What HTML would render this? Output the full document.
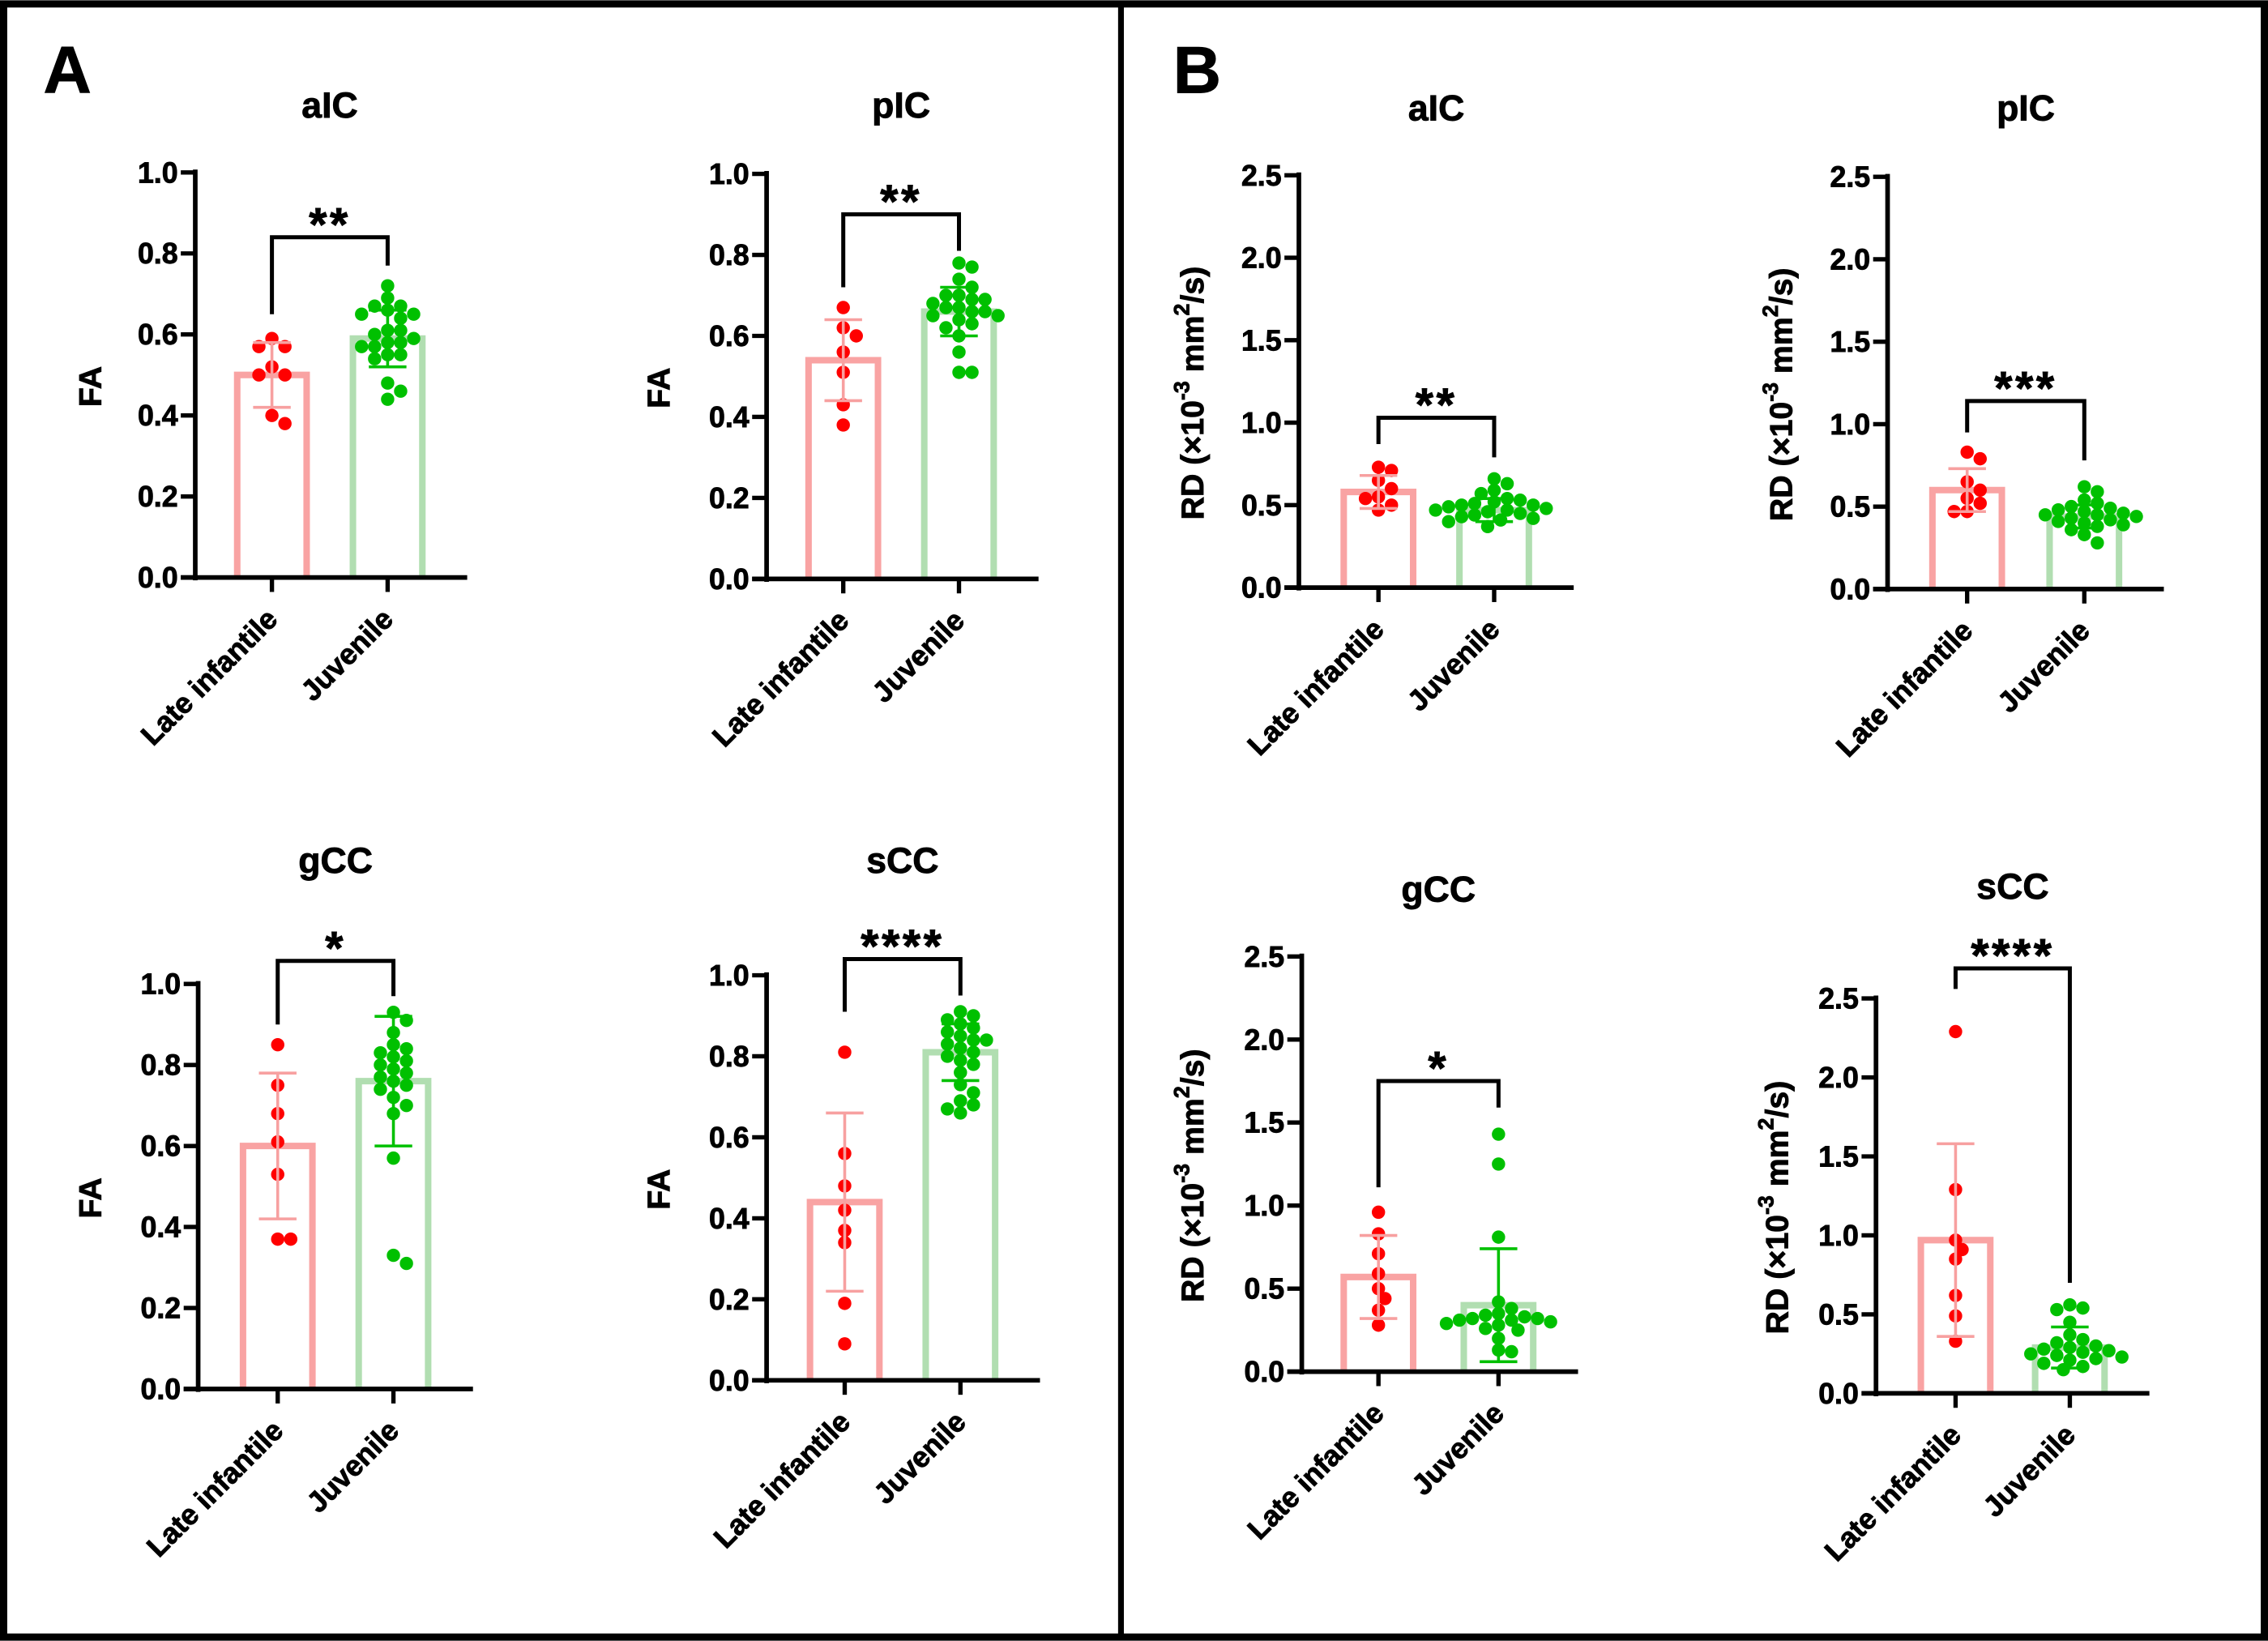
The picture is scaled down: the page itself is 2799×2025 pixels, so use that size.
<!DOCTYPE html>
<html><head><meta charset="utf-8"><style>
html,body{margin:0;padding:0;background:#fff}
svg{display:block}
text{font-family:"Liberation Sans",Arial,sans-serif;font-weight:bold;fill:#000;stroke:#000;stroke-width:0.5}
</style></head><body>
<svg id="fig" width="2799" height="2025" viewBox="0 0 1568 1134" xmlns="http://www.w3.org/2000/svg">
<rect x="2.5" y="2.5" width="1563" height="1129" fill="#fff" stroke="#000" stroke-width="5"/>
<line x1="775" y1="2" x2="775" y2="1132" stroke="#000" stroke-width="4"/>
<text x="30" y="64" font-size="46">A</text>
<text x="811" y="64" font-size="46">B</text>
</svg>
<script>
// ---- data ----
const categories = ["Late infantile","Juvenile"];
const faTicks = ["0.0","0.2","0.4","0.6","0.8","1.0"];
const rdTicks = ["0.0","0.5","1.0","1.5","2.0","2.5"];

const faAicLI = [0.59,0.57,0.57,0.52,0.50,0.50,0.40,0.38];
const faAicJuv = [0.72,0.69,0.67,0.67,0.66,0.65,0.65,0.64,0.61,0.61,0.60,0.59,0.58,0.58,0.57,0.57,0.55,0.55,0.54,0.48,0.46,0.44];
const faAicStats = [0.50,0.08,0.59,0.07];

const faPicLI = [0.67,0.62,0.60,0.56,0.51,0.43,0.38];
const faPicJuv = [0.78,0.77,0.74,0.72,0.70,0.70,0.69,0.69,0.68,0.67,0.67,0.66,0.66,0.65,0.65,0.64,0.63,0.62,0.60,0.56,0.51,0.51];
const faPicStats = [0.54,0.10,0.66,0.06];

const faGccLI = [0.85,0.75,0.68,0.61,0.53,0.37,0.37];
const faGccJuv = [0.93,0.91,0.88,0.85,0.84,0.83,0.82,0.81,0.80,0.79,0.78,0.77,0.76,0.75,0.74,0.72,0.70,0.68,0.57,0.33,0.31];
const faGccStats = [0.60,0.18,0.76,0.16];

const faSccLI = [0.81,0.56,0.48,0.42,0.37,0.34,0.19,0.09];
const faSccJuv = [0.91,0.90,0.89,0.88,0.87,0.86,0.85,0.84,0.84,0.83,0.82,0.81,0.80,0.79,0.78,0.76,0.73,0.71,0.69,0.68,0.67,0.66];
const faSccStats = [0.44,0.22,0.81,0.07];

const rdAicLI = [0.73,0.71,0.65,0.60,0.55,0.54,0.50,0.47];
const rdAicJuv = [0.66,0.63,0.59,0.57,0.54,0.53,0.52,0.51,0.50,0.50,0.49,0.48,0.47,0.47,0.46,0.45,0.44,0.43,0.42,0.41,0.40,0.37];
const rdAicStats = [0.58,0.10,0.47,0.07];

const rdPicLI = [0.83,0.79,0.65,0.60,0.55,0.52,0.47,0.47];
const rdPicJuv = [0.62,0.59,0.54,0.52,0.50,0.49,0.48,0.47,0.46,0.45,0.45,0.44,0.43,0.42,0.41,0.40,0.39,0.38,0.36,0.33,0.28];
const rdPicStats = [0.60,0.13,0.44,0.07];

const rdGccLI = [0.96,0.83,0.71,0.59,0.50,0.44,0.37,0.28];
const rdGccJuv = [1.43,1.25,0.81,0.42,0.38,0.35,0.34,0.33,0.32,0.32,0.31,0.31,0.30,0.29,0.28,0.26,0.25,0.20,0.13,0.12];
const rdGccStats = [0.57,0.25,0.40,0.34];

const rdSccLI = [2.29,1.29,0.97,0.91,0.85,0.62,0.49,0.33];
const rdSccJuv = [0.56,0.54,0.53,0.45,0.37,0.34,0.32,0.30,0.29,0.28,0.27,0.26,0.25,0.24,0.23,0.22,0.21,0.19,0.17,0.15];
const rdSccStats = [0.97,0.61,0.29,0.13];

const stars = ["**","**","*","****","**","***","*","****"];
const titles = ["aIC","pIC","gCC","sCC","aIC","pIC","gCC","sCC"];
const bracketVals = [[0.84,0.65,0.77],[0.90,0.72,0.81],[1.057,0.90,0.97],[1.04,0.91,0.95],[1.03,0.87,0.79],[1.14,0.95,0.78],[1.75,1.11,1.59],[2.69,2.56,0.70]];

// ---- layout ----
const panels = [
 {key:"a-aic",x0:135,yb:399,yt:119,max:1,ticks:faTicks,c:[188,268],ty:81,lx:70,fa:true,d:[faAicLI,faAicJuv],s:faAicStats},
 {key:"a-pic",x0:530,yb:400,yt:120,max:1,ticks:faTicks,c:[583,663],ty:81,lx:463,fa:true,d:[faPicLI,faPicJuv],s:faPicStats},
 {key:"a-gcc",x0:137,yb:960,yt:680,max:1,ticks:faTicks,c:[192,272],ty:603,lx:70,fa:true,d:[faGccLI,faGccJuv],s:faGccStats},
 {key:"a-scc",x0:530,yb:954,yt:674,max:1,ticks:faTicks,c:[584,664],ty:603,lx:463,fa:true,d:[faSccLI,faSccJuv],s:faSccStats},
 {key:"b-aic",x0:898,yb:406,yt:121,max:2.5,ticks:rdTicks,c:[953,1033],ty:83,lx:832,fa:false,d:[rdAicLI,rdAicJuv],s:rdAicStats},
 {key:"b-pic",x0:1305,yb:407,yt:122,max:2.5,ticks:rdTicks,c:[1360,1441],ty:83,lx:1239,fa:false,d:[rdPicLI,rdPicJuv],s:rdPicStats},
 {key:"b-gcc",x0:900,yb:948,yt:661,max:2.5,ticks:rdTicks,c:[953,1036],ty:623,lx:832,fa:false,d:[rdGccLI,rdGccJuv],s:rdGccStats},
 {key:"b-scc",x0:1297,yb:963,yt:690,max:2.5,ticks:rdTicks,c:[1352,1431],ty:621,lx:1236,fa:false,d:[rdSccLI,rdSccJuv],s:rdSccStats}
];
const NS="http://www.w3.org/2000/svg";
const svg=document.getElementById('fig');
function mk(tag,attrs,parent){const e=document.createElementNS(NS,tag);for(const k in attrs)e.setAttribute(k,attrs[k]);(parent||svg).appendChild(e);return e;}
const barStroke=["#f9a3a3","#b1deb1"];
const dotFill=["#ff0000","#00c000"];
const errCol=["#f7a0a0","#00c000"];

panels.forEach((p,i)=>{
  const g=mk('g',{});
  
  
  const y=v=>p.yb-(v/p.max)*(p.yb-p.yt);
  const t=mk('text',{x:(p.c[0]+p.c[1])/2,y:p.ty,'font-size':25,'text-anchor':'middle'},g);
  t.textContent=titles[i];
  
  
  const ya=mk('line',{x1:p.x0,y1:p.yt-2,x2:p.x0,y2:p.yb+2,stroke:'#000','stroke-width':3.2},g);
  
  
  p.ticks.forEach((lab)=>{
    const v=parseFloat(lab);
    mk('line',{x1:p.x0-10,y1:y(v),x2:p.x0,y2:y(v),stroke:'#000','stroke-width':3},g);
    const tl=mk('text',{x:p.x0-12,y:y(v)+7,'font-size':20,'text-anchor':'end'},g);
    tl.textContent=lab;
    
    
  });
  const cy=(p.yt+p.yb)/2;
  const yl=mk('text',{x:p.lx,y:cy+8,'font-size':22,'text-anchor':'middle',transform:`rotate(-90 ${p.lx} ${cy+8})`},g);
  if(p.fa){yl.textContent='FA';}
  else{
    yl.innerHTML='RD (×10<tspan font-size="15" dy="-10">-3</tspan><tspan dy="10"> mm</tspan><tspan font-size="15" dy="-10">2</tspan><tspan dy="10">/s)</tspan>';
  }
  
  
  [0,1].forEach(j=>{
    const c=p.c[j], mean=p.s[j*2], sd=p.s[j*2+1];
    const bar=mk('path',{d:`M${c-24} ${p.yb} V${y(mean)} H${c+24} V${p.yb}`,fill:'#fff',stroke:barStroke[j],'stroke-width':4.5},g);
    
    
    const pts=p.d[j].slice().sort((a,b)=>b-a);const placed=[];const r=4.6,dx=4.5;
    pts.forEach(v=>{
      const py=y(v);let ox=0;
      for(let n=0;n<30;n++){const cand=(n===0?0:(n%2? Math.ceil(n/2):-Math.ceil(n/2)))*dx;
        const px=c+cand;
        if(placed.every(q=>Math.hypot(q[0]-px,q[1]-py)>=1.7*r)){ox=cand;break;}}
      placed.push([c+ox,py]);
    });
    placed.forEach(q=>{
      const dt=mk('circle',{cx:q[0],cy:q[1],r:r,fill:dotFill[j]},g);
      
      
    });
    const eb=mk('path',{d:`M${c} ${y(mean-sd)} V${y(mean+sd)} M${c-13} ${y(mean-sd)} H${c+13} M${c-13} ${y(mean+sd)} H${c+13}`,stroke:errCol[j],'stroke-width':2,fill:'none'},g);
    
    
  });
  const xa=mk('line',{x1:p.x0-10,y1:p.yb,x2:p.c[1]+55,y2:p.yb,stroke:'#000','stroke-width':3.2},g);
  
  
  p.c.forEach((c,j)=>{
    mk('line',{x1:c,y1:p.yb,x2:c,y2:p.yb+10,stroke:'#000','stroke-width':3},g);
    const ax=c+5, ay=p.yb+30;
    const xl=mk('text',{x:ax,y:ay,'font-size':20,'text-anchor':'end',transform:`rotate(-45 ${ax} ${ay})`},g);
    xl.textContent=categories[j];
    
    
  });
  const b=bracketVals[i];
  const br=mk('path',{d:`M${p.c[0]} ${y(b[1])} V${y(b[0])} H${p.c[1]} V${y(b[2])}`,stroke:'#000','stroke-width':2.8,fill:'none'},g);
  
  
  const st=mk('text',{x:(p.c[0]+p.c[1])/2,y:y(b[0])+2,'font-size':32,'text-anchor':'middle','letter-spacing':'2'},g);
  st.textContent=stars[i];
  
  
});
</script>
</body></html>
